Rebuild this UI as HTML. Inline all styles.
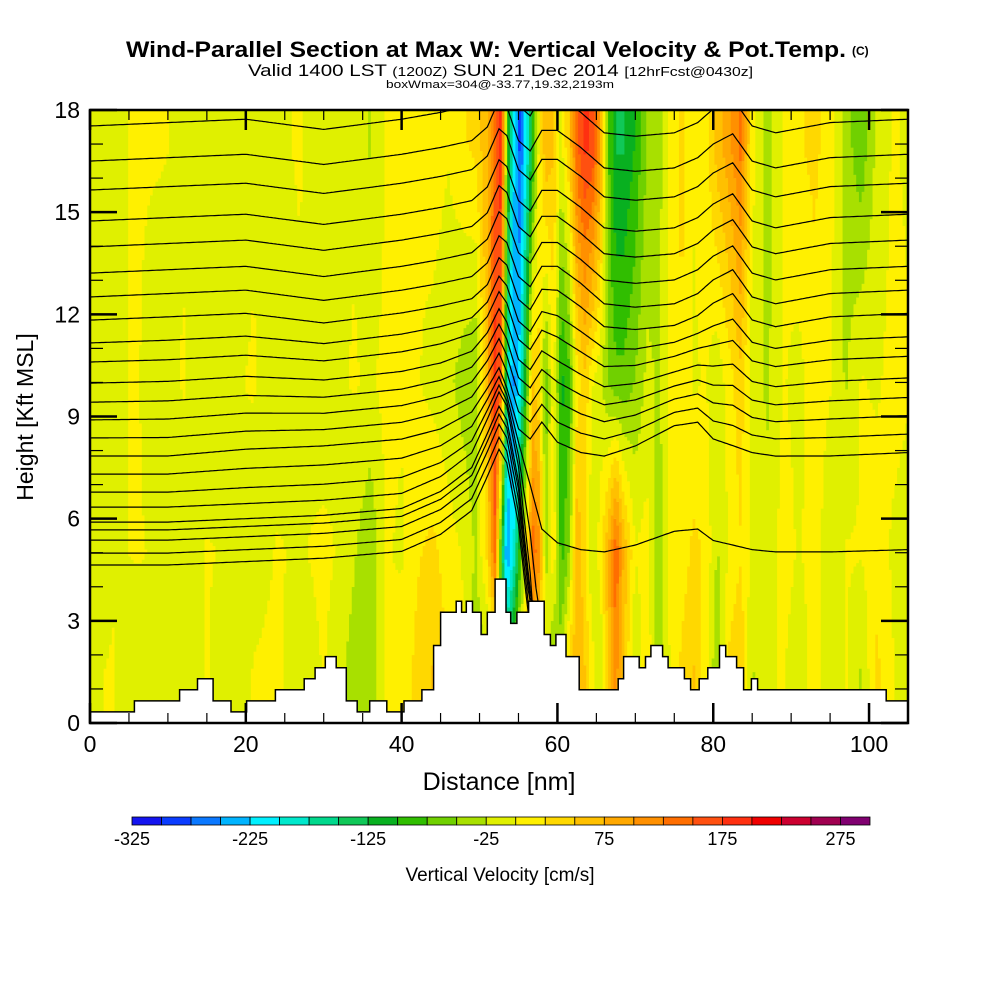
<!DOCTYPE html>
<html><head><meta charset="utf-8"><style>
html,body{margin:0;padding:0;background:#fff;}
svg{display:block;font-family:"Liberation Sans",sans-serif;}
</style></head><body>
<svg id="chart" width="1000" height="1000" viewBox="0 0 1000 1000" xmlns="http://www.w3.org/2000/svg">
<defs><clipPath id="plotclip"><rect x="90" y="110" width="818" height="613"/></clipPath></defs>
<rect width="1000" height="1000" fill="#fff"/>
<g>
<text x="126" y="57" font-size="22" font-weight="bold" textLength="720" lengthAdjust="spacingAndGlyphs">Wind-Parallel Section at Max W: Vertical Velocity &amp; Pot.Temp.</text>
<text x="852" y="55" font-size="12" font-weight="bold">(C)</text>
<text x="248" y="76" font-size="17" textLength="505" lengthAdjust="spacingAndGlyphs">Valid 1400 LST <tspan font-size="13">(1200Z)</tspan> SUN 21 Dec 2014 <tspan font-size="13">[12hrFcst@0430z]</tspan></text>
<text x="386" y="88" font-size="11" textLength="228" lengthAdjust="spacingAndGlyphs">boxWmax=304@-33.77,19.32,2193m</text>
</g>
<g id="field" clip-path="url(#plotclip)"></g>
<g id="contours" fill="none" stroke="#000" stroke-width="1.2" clip-path="url(#plotclip)"></g>
<g id="terrain"></g>
<g id="axes"></g>
<text transform="translate(33,417) rotate(-90)" text-anchor="middle" font-size="23">Height [Kft MSL]</text>
<text x="499" y="790" text-anchor="middle" font-size="25">Distance [nm]</text>
<g id="cbar"></g>
<text x="500" y="881" text-anchor="middle" font-size="19">Vertical Velocity [cm/s]</text>
</svg>
<script>
// ---- data ----
const colX = [0,3,6,9,12,15,18,21,24,27,30,32,34,36,38,40,42,44,46,48,49.5,51,52,52.8,53.5,54.3,55.2,56,56.8,57.6,58.5,59.5,60.5,61.5,62.5,63.5,64.5,65.5,66.5,67.5,68.5,70,71.5,73,74.5,76,77.5,79,80.5,82,83.5,85,87,89,91,93,95,97,99,101,103,105];
const rowH = [1.5, 5, 10, 17];
const wLow  = [5,10,-10,5,-10,10,-15,10,15,-10,10,-10,-30,-35,10,20,40,60,30,10,-40,-30,-20,-50,-100,-50,20,30,50,40,20,-60,-20,50,80,60,20,-20,60,120,60,-20,30,-40,10,40,60,20,-40,40,60,-20,5,10,-10,20,-10,10,-20,40,10,-10];
const wMid  = [-10,5,10,5,-5,10,5,-5,10,5,15,5,-15,-40,10,5,30,40,20,5,-20,40,150,-100,-250,-200,-80,20,150,120,-30,30,-80,-40,80,40,-20,20,80,160,80,10,20,-40,20,20,40,30,-20,10,30,0,-10,20,5,20,-10,10,10,20,5,0];
const wUpM  = [-10,5,10,-5,10,-10,5,10,-5,5,-10,5,10,5,15,10,10,0,-10,-30,-40,80,200,150,-150,-250,-200,-80,60,40,-60,20,-100,-80,20,50,10,-10,-40,-60,-60,-40,-10,-20,20,30,5,10,-10,20,50,-10,-20,10,0,20,10,-20,10,5,15,10];
const wTop  = [-10,5,10,10,5,-10,-10,5,5,10,-10,5,5,-20,10,20,10,20,10,30,40,80,150,200,-50,-200,-275,-200,-100,10,80,60,0,60,150,190,180,100,-60,-120,-120,-90,-40,-30,20,40,10,20,70,100,140,20,-30,10,30,40,20,-30,-60,-10,10,5];
const wOffset = -8;
// theta contours: starting heights (kft) at left edge
const thetaH0 = [17.53,16.5,15.65,14.74,13.98,13.21,12.51,11.83,11.16,10.6,9.98,9.42,8.9,8.37,7.84,7.31,6.78,6.34,5.9,5.67,5.37,4.99,4.64];
const dispX   = [0,10,20,30,40,45,49,51,52.5,53.5,55,56.5,58,60,63,66,70,75,78,80,82.5,85,88,95,105];
const dispUp  = [0,0.1,0.2,-0.1,0.2,0.4,0.6,1.0,1.8,1.6,0.6,0.3,0.9,0.9,0.4,-0.2,-0.3,-0.2,0.1,0.5,0.8,0.0,-0.2,0.1,0.2];
const dispMid = [0,0,0.2,0.3,0.5,0.8,1.3,2.0,2.6,2.0,0.8,0.5,1.0,0.4,0.1,0.0,0.3,0.9,1.0,0.5,0.3,0.1,0.0,0.0,0.1];
const dispLow = [0,0,0.1,0.2,0.4,0.9,1.6,2.6,3.4,3.0,1.2,-2,-7,-7,-7,-7,-7,-7,-7,-7,-7,-7,-7,-7,-7];
// terrain staircase (nm, level x 0.325 kft)
const terrX = [0,5.7,11.5,13.8,15.8,18.1,20.1,23.8,27.5,28.9,30.2,31.6,32.9,34.3,35.9,38.1,40.3,42.6,44.1,45.0,47.0,47.7,48.3,49.1,50.2,51.0,52.0,53.4,54.0,54.8,56.3,58.3,59.1,59.8,61.1,62.8,67.8,68.5,70.5,71.3,72.0,73.5,74.2,76.3,77.1,78.2,79.3,80.8,81.6,83.0,83.9,84.9,85.7,89.3,102.2,105];
const terrLv = [1,2,3,4,2,1,2,3,4,5,6,5,2,1,2,1,2,3,7,10,11,10,11,10,8,10,13,10,9,10,11,8,7,8,6,3,4,6,5,6,7,6,5,4,3,4,5,7,6,5,3,4,3,3,2,2];
const cbarEdgesStart = -325, cbarStep = 25, cbarN = 25;
const cbarLabels = [-325,-225,-125,-25,75,175,275];
const xTicks = [0,20,40,60,80,100];
const yTicks = [0,3,6,9,12,15,18];
const palette = ["#1414f0","#0a3cff","#0a78ff","#00b4ff","#00f0ff","#00e8cc","#00d88c","#10c858","#08b020","#30be00","#70d000","#a8e000","#e0f000","#fff000","#ffd800","#ffc000","#ffa800","#ff9000","#ff6e00","#ff5010","#ff3010","#f00000","#cc0030","#a00050","#800070"];
// ---- scales ----
const X0=90,X1=908,Y0=723,Y1=110;
const sx = v => X0 + v/105*(X1-X0);
const sy = v => Y0 - v/18*(Y0-Y1);
const NS="http://www.w3.org/2000/svg";
function mk(tag, attrs, parent){const e=document.createElementNS(NS,tag);for(const k in attrs)e.setAttribute(k,attrs[k]);parent.appendChild(e);return e;}
function interp(xs, ys, x){if(x<=xs[0])return ys[0];for(let i=1;i<xs.length;i++){if(x<=xs[i]){const t=(x-xs[i-1])/(xs[i]-xs[i-1]);return ys[i-1]+t*(ys[i]-ys[i-1]);}}return ys[ys.length-1];}
const rows=[wLow,wMid,wUpM,wTop];
function wAt(x,h){const c=rows.map(r=>interp(colX,r,x));return interp(rowH,c,h)+wOffset;}
function colorOf(v){let b=Math.floor((v-cbarEdgesStart)/cbarStep);b=Math.max(0,Math.min(cbarN-1,b));return palette[b];}
function terrAt(x){let lv=terrLv[0];for(let i=0;i<terrX.length;i++){if(x>=terrX[i])lv=terrLv[i];}return lv*0.325;}
// ---- field ----
const field=document.getElementById('field');
const dx=0.35, dh=0.1;
for(let x=0;x<105;x+=dx){
  const xm=x+dx/2;
  let start=0, cur=colorOf(wAt(xm,0.05));
  for(let h=dh;h<=18.0001;h+=dh){
    const c = h<18-1e-6 ? colorOf(wAt(xm,h+dh/2)) : null;
    if(c!==cur){
      const r=mk('rect',{x:sx(x).toFixed(2),y:sy(h).toFixed(2),width:(sx(dx)-X0+0.6).toFixed(2),height:(sy(start)-sy(h)+0.2).toFixed(2),fill:cur},field);
      
      
      start=h;cur=c;
    }
  }
}
// ---- contours ----
const cg=document.getElementById('contours');
function dispAt(x,h0){
  const u=interp(dispX,dispUp,x),m=interp(dispX,dispMid,x),l=interp(dispX,dispLow,x);
  if(h0>=12)return u; if(h0>=7.8){const t=(h0-7.8)/4.2;return m+(u-m)*t;}
  if(h0>=6.3){const t=(h0-6.3)/1.5;return l+(m-l)*t;} return l;
}
thetaH0.forEach((h0,i)=>{
  let d='';
  for(let x=0;x<=105.001;x+=0.25){
    let h=h0+dispAt(x,h0);
    if(h<terrAt(x)){ if(x>50){d+=`L${sx(x).toFixed(1)},${sy(terrAt(x)).toFixed(1)}`;break;} h=terrAt(x);}
    if(h>18.3)h=18.3;
    d+=(d?'L':'M')+sx(x).toFixed(1)+','+sy(h).toFixed(1);
  }
  const p=mk('path',{d:d},cg);
  
  
});
// ---- terrain ----
const tg=document.getElementById('terrain');
let td='M'+sx(0)+','+Y0;
for(let i=0;i<terrX.length;i++){
  const xa=sx(terrX[i]), xb=sx(i+1<terrX.length?terrX[i+1]:105), yy=sy(terrLv[i]*0.325);
  td+=`L${xa.toFixed(1)},${yy.toFixed(1)}L${xb.toFixed(1)},${yy.toFixed(1)}`;
}
td+='L'+sx(105)+','+Y0+'Z';
const tp=mk('path',{d:td,fill:'#fff',stroke:'#000','stroke-width':1.5},tg);


// ---- axes ----
const ag=document.getElementById('axes');
const fr=mk('rect',{x:X0,y:Y1,width:X1-X0,height:Y0-Y1,fill:'none',stroke:'#000','stroke-width':2.5},ag);


for(let v=0;v<=105;v+=5){
  const L=(v%20===0)?20:10, x=sx(v);
  mk('line',{x1:x,y1:Y0,x2:x,y2:Y0-L,stroke:'#000','stroke-width':L>10?2.5:1.2},ag);
  mk('line',{x1:x,y1:Y1,x2:x,y2:Y1+L,stroke:'#000','stroke-width':L>10?2.5:1.2},ag);
}
for(let v=0;v<=18;v+=1){
  const L=(v%3===0)?27:13, y=sy(v);
  mk('line',{x1:X0,y1:y,x2:X0+L,y2:y,stroke:'#000','stroke-width':L>13?2.5:1.2},ag);
  mk('line',{x1:X1,y1:y,x2:X1-L,y2:y,stroke:'#000','stroke-width':L>13?2.5:1.2},ag);
}
xTicks.forEach(v=>{
  const t=mk('text',{x:sx(v),y:752,'text-anchor':'middle','font-size':23},ag);t.textContent=v;
  
  
});
yTicks.forEach(v=>{
  const t=mk('text',{x:80,y:sy(v)+8,'text-anchor':'end','font-size':23},ag);t.textContent=v;
  
  
});
// ---- colorbar ----
const cb=document.getElementById('cbar');
const CB0=132,CB1=870,cw=(CB1-CB0)/cbarN;
for(let i=0;i<cbarN;i++){
  const r=mk('rect',{x:CB0+i*cw,y:817,width:cw,height:8,fill:palette[i],stroke:'#000','stroke-width':0.8},cb);
  
  
}
cbarLabels.forEach(v=>{
  const t=mk('text',{x:CB0+(v-cbarEdgesStart)/cbarStep*cw,y:845,'text-anchor':'middle','font-size':18},cb);t.textContent=v;
  
  
});
</script>
</body></html>
